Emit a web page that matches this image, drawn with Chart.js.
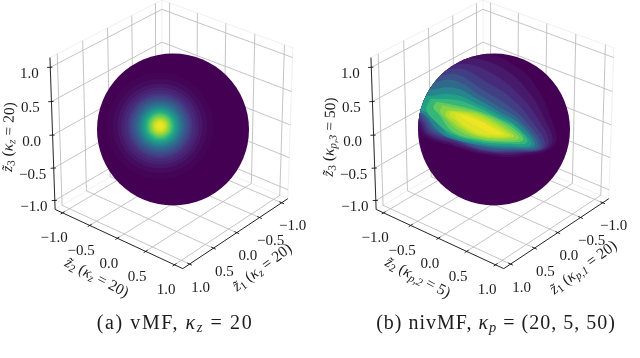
<!DOCTYPE html>
<html><head><meta charset="utf-8">
<style>html,body{margin:0;padding:0;background:#fff}canvas{display:block}</style>
<script src="https://cdn.jsdelivr.net/npm/chart.js@4"></script>
</head><body><canvas id="c" width="640" height="358"></canvas>
<script>
const axisTicks = [-1, -0.5, 0, 0.5, 1];
const tickLabels = ["\u22121.0", "\u22120.5", "0.0", "0.5", "1.0"];
const viridis = ["#440154","#482475","#414487","#355f8d","#2a788e","#21918c","#22a884","#44bf70","#7ad151","#bddf26","#fde725"];

// vMF density bands: radius on the sphere (unit radius) and level in the colour map
const vmfBandRadius = [.70,.62,.56,.51,.47,.43,.40,.37,.345,.32,.30,.28,.26,.24,.22,.20,.18,.16,.14,.12,.10,.08,.06,.04];
const vmfBandLevel  = [.01,.03,.06,.09,.12,.16,.20,.24,.28,.32,.36,.40,.45,.50,.55,.60,.66,.72,.78,.83,.88,.92,.95,.97];
const vmfPeak = [-0.171, 0.046];

// nivMF density contours, in 1/228ths of the sphere radius (right, up) from the sphere centre
const nivLevels = [.03,.07,.12,.18,.25,.34,.45,.56,.66,.76,.82,.88,.92,.95,.97,.98];
const nivL03 = [[-60,228],[-10,225],[50,200],[115,145],[165,50],[182,-45],[80,-80],[-30,-75],[-130,-48],[-205,-24],[-235,15],[-290,140]];
const nivL06 = [[-95,215],[-40,210],[25,185],[90,130],[148,40],[172,-45],[75,-74],[-30,-70],[-125,-44],[-200,-18],[-225,18],[-290,120]];
const nivL11 = [[-120,195],[-70,195],[0,165],[65,115],[130,35],[162,-48],[70,-70],[-30,-66],[-120,-40],[-197,-14],[-220,22],[-280,100]];
const nivL17 = [[-150,180],[-90,180],[-20,140],[45,100],[110,30],[152,-50],[65,-67],[-30,-63],[-115,-36],[-192,-10],[-216,26],[-270,90]];
const nivL23 = [[-170,160],[-110,165],[-35,120],[30,80],[95,25],[142,-52],[60,-63],[-30,-60],[-110,-33],[-185,-6],[-212,32],[-260,90]];
const nivL30 = [[-187,140],[-120,148],[-42,103],[20,65],[80,25],[132,-50],[55,-60],[-25,-54],[-110,-28],[-177,-2],[-207,38],[-250,90]];
const nivL40 = [[-200,118],[-120,125],[-42,87],[18,52],[75,18],[122,-48],[50,-55],[-30,-49],[-136,-24],[-175,4],[-205,42],[-250,70]];
const nivL50 = [[-202,100],[-120,105],[-42,73],[18,42],[70,8],[112,-44],[45,-50],[-35,-43],[-132,-18],[-162,13],[-197,48],[-240,70]];
const nivL60 = [[-190,92],[-110,88],[-42,63],[18,33],[65,8],[100,-38],[40,-43],[-40,-37],[-128,-12],[-182,30],[-203,60]];
const nivL70 = [[-172,83],[-95,68],[-42,53],[18,28],[60,3],[88,-31],[35,-38],[-42,-31],[-122,-8],[-167,48],[-182,65]];
const nivL75 = [[-155,72],[-90,60],[-40,48],[10,25],[50,0],[75,-26],[30,-33],[-42,-27],[-105,-4],[-150,38],[-162,55]];
const nivL80 = [[-137,58],[-85,53],[-40,43],[5,20],[40,-3],[60,-20],[25,-27],[-42,-21],[-92,-1],[-137,33],[-146,46]];
const nivL85 = [[-128,55],[-80,48],[-40,35],[0,14],[35,-8],[48,-18],[20,-23],[-42,-17],[-90,5],[-118,30],[-134,43]];
const nivL90 = [[-118,50],[-75,41],[-42,28],[-5,8],[25,-8],[35,-15],[10,-18],[-42,-12],[-85,10],[-110,30]];
const nivL95 = [[-105,47],[-60,32],[-20,15],[15,-7],[22,-14],[0,-14],[-35,1],[-70,18],[-95,35]];
const nivL98 = [[-90,40],[-55,26],[-20,10],[5,-6],[-10,-8],[-45,8],[-75,28]];
const nivContours = [nivL03,nivL06,nivL11,nivL17,nivL23,nivL30,nivL40,nivL50,nivL60,nivL70,nivL75,nivL80,nivL85,nivL90,nivL95,nivL98];
const contourUnit = 228;

// Panel texts
const SER = '"Liberation Serif"';
const labelsA = {
  z3:[["z\u0303","i"],["3","s"],[" (","r"],["\u03ba","i"],["z","si"],[" = 20)","r"]],
  z2:[["z\u0303","i"],["2","s"],[" (","r"],["\u03ba","i"],["z","si"],[" = 20)","r"]],
  z1:[["z\u0303","i"],["1","s"],[" (","r"],["\u03ba","i"],["z","si"],[" = 20)","r"]],
  cap:[["(a) vMF, ","r"],["\u03ba","i"],["z","si"],[" = 20","r"]], capSpace:1.6
};
const labelsB = {
  z3:[["z\u0303","i"],["3","s"],[" (","r"],["\u03ba","i"],["p,3","si"],[" = 50)","r"]],
  z2:[["z\u0303","i"],["2","s"],[" (","r"],["\u03ba","i"],["p,2","si"],[" = 5)","r"]],
  z1:[["z\u0303","i"],["1","s"],[" (","r"],["\u03ba","i"],["p,1","si"],[" = 20)","r"]],
  cap:[["(b) nivMF, ","r"],["\u03ba","i"],["p","si"],[" = (20, 5, 50)","r"]], capSpace:1
};

// View of the 3D box
const view = {elev:29.5, azim:40, dist:26, scale:74, zStretch:1.03, cx:172, cy:130, half:1.14};
const sphere = {cx:173, cy:129.5, r:76};
const panelB = 321;

function proj(x,y,z,off){
  const e=view.elev*Math.PI/180, a=view.azim*Math.PI/180;
  const zz=z*view.zStretch;
  const X=-Math.sin(a)*x+Math.cos(a)*y;
  const Y=-Math.sin(e)*Math.cos(a)*x-Math.sin(e)*Math.sin(a)*y+Math.cos(e)*zz;
  const D=Math.cos(e)*Math.cos(a)*x+Math.cos(e)*Math.sin(a)*y+Math.sin(e)*z;
  const f=1/(1-D/view.dist);
  return {x:off+view.cx+view.scale*X*f, y:view.cy-view.scale*Y*f};
}
function lerpColor(t){
  const p=Math.min(.9999,Math.max(0,t))*(viridis.length-1), i=Math.floor(p), k=p-i;
  const h=s=>[1,3,5].map(j=>parseInt(s.substr(j,2),16));
  const a=h(viridis[i]), b=h(viridis[i+1]);
  return `rgb(${a.map((v,j)=>Math.round(v+(b[j]-v)*k)).join(",")})`;
}
function seg(list,p,q,off){list.push(proj(...p,off),proj(...q,off),{x:null,y:null});}

function panelDatasets(off,isNiv){
  const a=view.half, ds=[];
  const pane=[],grid=[],axis=[];
  // pane edges
  [[[a,-a,-a],[a,a,-a]],[[a,a,-a],[-a,a,-a]],[[-a,a,-a],[-a,-a,-a]],[[-a,-a,-a],[a,-a,-a]],
   [[a,-a,-a],[a,-a,a]],[[a,-a,a],[-a,-a,a]],[[-a,-a,a],[-a,a,a]],[[-a,a,a],[-a,a,-a]],[[-a,-a,a],[-a,-a,-a]]]
   .forEach(s=>seg(pane,s[0],s[1],off));
  axisTicks.forEach(t=>{
    seg(grid,[t,-a,-a],[t,a,-a],off);   // floor
    seg(grid,[-a,t,-a],[a,t,-a],off);
    seg(grid,[t,-a,-a],[t,-a,a],off);   // wall y=-a
    seg(grid,[-a,t,-a],[-a,t,a],off);   // wall x=-a
    seg(grid,[-a,-a,t],[a,-a,t],off);
    seg(grid,[-a,-a,t],[-a,a,t],off);
    seg(axis,[a+.03,-a-.03,t],[a-.02,-a+.02,t],off);
    seg(axis,[a+.04,t,-a],[a-.04,t,-a],off);
    seg(axis,[t,a+.04,-a],[t,a-.04,-a],off);
  });
  seg(axis,[a,-a,-a],[a,-a,a],off);
  seg(axis,[a,-a,-a],[a,a,-a],off);
  seg(axis,[a,a,-a],[-a,a,-a],off);
  const line=(data,color,w)=>({data,borderColor:color,borderWidth:w,pointRadius:0,spanGaps:false,fill:false,tension:0});
  ds.push(line(pane,"#ececec",.8));
  ds.push(line(grid,"#bdbdbd",.9));
  ds.push(line(axis,"#111",.9));
  ds.push({data:[{x:off+sphere.cx,y:sphere.cy}],showLine:false,pointRadius:sphere.r,pointBorderWidth:0,pointBackgroundColor:viridis[0]});
  if(!isNiv){
    ds.push({data:vmfBandRadius.map(()=>({x:off+sphere.cx+vmfPeak[0]*sphere.r,y:sphere.cy-vmfPeak[1]*sphere.r})),
      showLine:false,pointBorderWidth:0,pointRadius:vmfBandRadius.map(r=>r*sphere.r),
      pointBackgroundColor:vmfBandLevel.map(lerpColor)});
  } else {
    nivContours.forEach((c,i)=>{
      const pts=c.concat([c[0]]).map(p=>({x:off+sphere.cx+p[0]/contourUnit*sphere.r,y:sphere.cy-p[1]/contourUnit*sphere.r}));
      ds.push({data:pts,contourFill:lerpColor(nivLevels[i]),clipSphere:off,borderWidth:0,pointRadius:0,tension:.4});
    });
  }
  return ds;
}

const all=[...panelDatasets(0,false),...panelDatasets(panelB,true)];
all.forEach((d,i)=>{d.order=all.length-i;});

function drawRuns(ctx,runs,cx,cy,rot,size,space){
  const font=r=>{
    const sub=r[1].includes("s"), it=r[1].includes("i");
    return `${it?"italic ":""}${sub?size*.72:size}px ${SER}`;
  };
  ctx.save();
  ctx.letterSpacing=(space||0)+"px";
  let w=0; runs.forEach(r=>{ctx.font=font(r);w+=ctx.measureText(r[0]).width;});
  ctx.translate(cx,cy);ctx.rotate(rot*Math.PI/180);
  ctx.textBaseline="alphabetic";ctx.textAlign="left";ctx.fillStyle="#1c1c1c";
  let x=-w/2;
  runs.forEach(r=>{ctx.font=font(r);ctx.fillText(r[0],x,size*.33+(r[1].includes("s")?size*.16:0));x+=ctx.measureText(r[0]).width;});
  ctx.restore();
}
const textPlugin={id:"texts",
  beforeDatasetDraw(chart,args){
    const d=chart.data.datasets[args.index];
    if(d.contourFill===undefined)return;
    const ctx=chart.ctx,line=args.meta.dataset;
    ctx.save();ctx.beginPath();ctx.arc(d.clipSphere+sphere.cx,sphere.cy,sphere.r,0,Math.PI*2);ctx.clip();
    ctx.beginPath();line.path(ctx);ctx.closePath();ctx.fillStyle=d.contourFill;ctx.fill();ctx.restore();
    return false;
  },
  afterDatasetsDraw(chart){
    const ctx=chart.ctx,a=view.half;
    [[0,labelsA],[panelB,labelsB]].forEach(([off,L])=>{
      axisTicks.forEach((t,i)=>{
        const l=tickLabels[i],run=[[l,"r"]];
        let p=proj(a,-a,t,off); drawRuns(ctx,run,p.x-21,p.y+5.5,0,15);
        p=proj(a,t,-a,off); drawRuns(ctx,run,p.x-8.5,p.y+24.5,0,15);
        p=proj(t,a,-a,off); drawRuns(ctx,run,p.x+11,p.y+22.5,0,15);
      });
      drawRuns(ctx,L.z3,off+8,137,-88,15.5);
      drawRuns(ctx,L.z2,off+97,277,27.6,15.5);
      drawRuns(ctx,L.z1,off+262,267,-36.6,15.5);
      drawRuns(ctx,L.cap,off+175,322,0,20,L.capSpace);
    });
  }
};

new Chart(document.getElementById("c"),{
  type:"line",
  data:{datasets:all},
  plugins:[textPlugin],
  options:{
    responsive:false,animation:false,parsing:{xAxisKey:"x",yAxisKey:"y"},
    layout:{padding:0,autoPadding:false},
    events:[],
    plugins:{legend:{display:false},tooltip:{enabled:false},title:{display:false}},
    scales:{
      x:{type:"linear",display:false,min:0,max:640},
      y:{type:"linear",display:false,min:0,max:358,reverse:true}
    }
  }
});
</script></body></html>
